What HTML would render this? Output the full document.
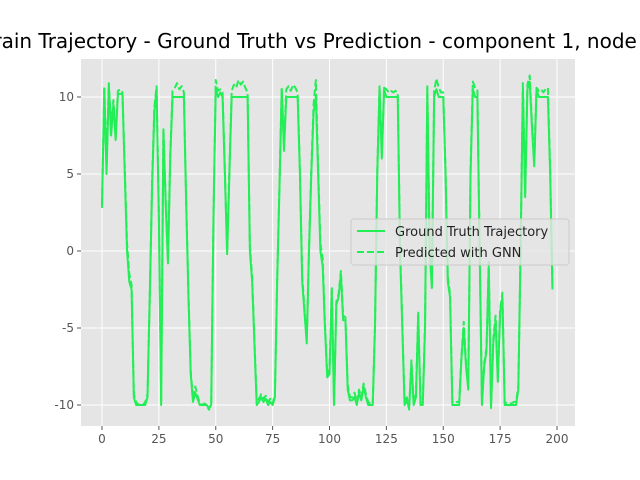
<!DOCTYPE html>
<html><head><meta charset="utf-8"><style>
body{margin:0;background:#fff;width:640px;height:480px;overflow:hidden;font-family:"Liberation Sans","DejaVu Sans",sans-serif}
svg{display:block}
</style></head><body>
<svg id="chart" width="640" height="480" xmlns="http://www.w3.org/2000/svg">
<text x="320" y="48" text-anchor="middle" font-size="20" fill="#000" font-family="DejaVu Sans, sans-serif">Train Trajectory - Ground Truth vs Prediction - component 1, node 0</text>
<rect x="81" y="59" width="494" height="367" fill="#E5E5E5"/>
<g id="grid"></g><g id="ticks"></g><g id="series"></g>
<g>
<rect x="351" y="219" width="218" height="46" rx="3" fill="#E5E5E5" fill-opacity="0.8" stroke="#ccc"/>
<line x1="357" y1="231" x2="385" y2="231" stroke="#22ee55" stroke-width="2"/>
<text x="395" y="236" font-size="13" fill="#222" font-family="DejaVu Sans, sans-serif">Ground Truth Trajectory</text>
<line x1="357" y1="252" x2="385" y2="252" stroke="#22ee55" stroke-width="2" stroke-dasharray="7,3"/>
<text x="395" y="257" font-size="13" fill="#222" font-family="DejaVu Sans, sans-serif">Predicted with GNN</text>
</g>
</svg>
<script>
const xTicks=[0,25,50,75,100,125,150,175,200];
const yTicks=[-10,-5,0,5,10];
const truth=[2.8,10.5,5,10.8,7.5,9.5,7.2,10.2,10.2,10.2,
5,0,-2,-2.5,-9.5,-10,-10,-10,-10,-10,
-9.5,-3,4,9,10.5,2,-10,7.7,3,-0.8,
6,10,10,10,10,10,10,3,-3,-8,
-9.8,-9.2,-9.6,-10,-10,-10,-10,-10.2,-10,2,
10.5,10,10.3,10,5,-0.2,5,10,10,10,
10,10,10,10,10,0,-2,-6,-10,-9.8,
-9.5,-9.8,-9.6,-10,-9.8,-10,-9.5,-2,4,10.5,
6.5,10,10,10,10,10,10,5,-2,-4,
-6,0,5,9,10,5,0,-1,-5,-8.2,
-8,-2.6,-10,-3.5,-3,-1.5,-4.5,-4.5,-9,-9.7,
-9.7,-9.5,-10,-9.2,-9.7,-8.8,-9.5,-10,-10,-10,
-5,5,10.5,6,10.5,10,10,10,10,10,
10,0,-5,-10,-9.7,-10.2,-7.3,-10,-9.5,-4.2,
-10,-10,-5,10.5,0,-2.4,10,10.5,10,10,
10,5,-2,-3,-10,-10,-10,-10,-7,-5,
-7.5,-9,5,10.5,10,10,0,-10,-7.5,-6.5,
-1,-10.2,-6,-4.5,-8.5,-4,-3,-10,-10,-10,
-10,-10,-10,-9,0,10.5,3.5,10.5,11,8,
5.5,10.5,10,10,10,10,10,5,-2.5];
const pred=[3,10.7,5.5,10.9,8,9.8,7.5,10.4,10.5,10.3,
5.5,0.5,-1.5,-2.2,-9.3,-9.8,-10,-9.9,-10,-9.8,
-9.3,-2.8,4.5,9.3,10.7,2.5,-9.7,8,3.3,-0.5,
6.3,10.4,10.6,10.9,10.5,10.7,10.3,3.3,-2.7,-7.8,
-9.6,-8.8,-9.4,-9.9,-10,-9.9,-10,-10.3,-9.9,2.3,
11.1,10.4,10.5,10.3,5.3,0,5.3,10.4,10.8,10.6,
11.1,10.8,11,10.6,10.3,0.4,-1.7,-5.8,-9.8,-9.6,
-9.3,-9.6,-9.4,-9.8,-9.6,-9.9,-9.3,-1.7,4.3,10.6,
6.8,10.5,10.7,10.4,10.8,10.6,10.3,5.3,-1.7,-3.7,
-5.8,0.3,5.3,9.5,11.1,5.5,0.5,-0.5,-4.7,-8,
-7.7,-2.3,-9.8,-3.3,-2.8,-1.3,-4.2,-4.3,-8.7,-9.5,
-9.5,-9.2,-9.8,-9,-9.5,-8.6,-9.3,-9.8,-9.9,-9.9,
-4.7,5.3,10.7,6.3,10.6,10.5,10.3,10.4,10.3,10.4,
10.3,0.4,-4.7,-9.8,-9.5,-10.3,-7.1,-9.8,-9.3,-4,
-9.8,-9.8,-4.7,10.7,0.3,-2.2,10.4,11.2,10.6,10.3,
10.3,5.3,-1.7,-2.8,-9.8,-9.9,-9.8,-9.8,-6.8,-4.6,
-7.2,-8.7,5.3,11,10.6,10.5,0.3,-9.8,-7.3,-6.3,
-0.7,-10,-5.7,-4.2,-8.3,-3.8,-2.7,-9.8,-9.9,-9.9,
-9.9,-9.8,-9.8,-8.8,0.3,10.9,3.8,10.8,11.4,8.3,
5.8,10.6,10.4,10.5,10.3,10.5,10.6,5.3,-2.2];
const X0=81,X1=575,Y0=59,Y1=426;
function sx(v){return 102+v*(557-102)/200;}
function sy(v){return 251-v*(405-97)/20;}
const NS="http://www.w3.org/2000/svg";
function mk(t,a,p){const e=document.createElementNS(NS,t);for(const k in a)e.setAttribute(k,a[k]);p.appendChild(e);return e;}
const grid=document.getElementById('grid'),ticks=document.getElementById('ticks'),ser=document.getElementById('series');
xTicks.forEach(v=>{
 const g=mk('line',{x1:sx(v),x2:sx(v),y1:Y0,y2:Y1,stroke:'#fff','stroke-width':1},grid);
 
 
 mk('line',{x1:sx(v),x2:sx(v),y1:Y1,y2:Y1+4,stroke:'#555'},ticks);
 const t=mk('text',{x:sx(v),y:Y1+17,'text-anchor':'middle','font-size':12,fill:'#555','font-family':'DejaVu Sans, sans-serif'},ticks);
 t.textContent=v;
 
 
});
yTicks.forEach(v=>{
 const g=mk('line',{x1:X0,x2:X1,y1:sy(v),y2:sy(v),stroke:'#fff','stroke-width':1},grid);
 
 
 mk('line',{x1:X0-4,x2:X0,y1:sy(v),y2:sy(v),stroke:'#555'},ticks);
 const t=mk('text',{x:X0-7,y:sy(v)+4,'text-anchor':'end','font-size':12,fill:'#555','font-family':'DejaVu Sans, sans-serif'},ticks);
 t.textContent=v;
 
 
});
function path(arr){return arr.map((v,i)=>(i?'L':'M')+sx(i).toFixed(2)+','+sy(v).toFixed(2)).join('');}
const p1=mk('path',{d:path(pred),fill:'none',stroke:'#22ee55','stroke-width':2,'stroke-dasharray':'7,3','stroke-linejoin':'round'},ser);


const p2=mk('path',{d:path(truth),fill:'none',stroke:'#22ee55','stroke-width':2,'stroke-linejoin':'round'},ser);


</script>
</body></html>
